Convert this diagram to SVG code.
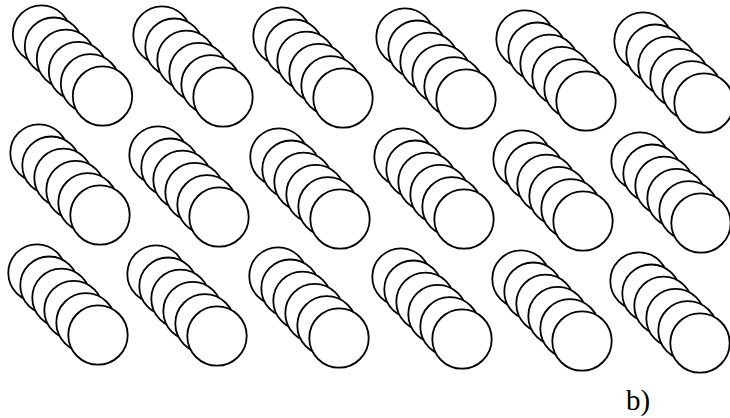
<svg xmlns="http://www.w3.org/2000/svg" xmlns:xlink="http://www.w3.org/1999/xlink" width="730" height="418" viewBox="0 0 730 418">
<style>
.c{fill:#fff;stroke:#000;stroke-width:1.8}
.lbl{font-family:"Liberation Serif","Times New Roman",serif;font-size:29px;fill:#000}
</style>
<defs>
<g id="stack">
<circle class="c" cx="0" cy="0" r="28.7"/>
<circle class="c" cx="12.2" cy="12.4" r="28.9"/>
<circle class="c" cx="24.4" cy="24.8" r="29.1"/>
<circle class="c" cx="36.6" cy="37.2" r="29.3"/>
<circle class="c" cx="48.8" cy="49.6" r="29.5"/>
<circle class="c" cx="61" cy="62" r="29.7"/>
</g>
</defs>
<rect width="730" height="418" fill="#fff"/>
<g id="row1">
<g id="s11"><use xlink:href="#stack" href="#stack" x="41.5" y="34"/></g>
<g id="s12"><use xlink:href="#stack" href="#stack" x="162" y="35"/></g>
<g id="s13"><use xlink:href="#stack" href="#stack" x="282" y="36"/></g>
<g id="s14"><use xlink:href="#stack" href="#stack" x="405" y="37"/></g>
<g id="s15"><use xlink:href="#stack" href="#stack" x="525" y="39"/></g>
<g id="s16"><use xlink:href="#stack" href="#stack" x="643" y="41"/></g>
</g>
<g id="row2">
<g id="s21"><use xlink:href="#stack" href="#stack" x="39" y="153"/></g>
<g id="s22"><use xlink:href="#stack" href="#stack" x="158" y="155"/></g>
<g id="s23"><use xlink:href="#stack" href="#stack" x="279" y="157"/></g>
<g id="s24"><use xlink:href="#stack" href="#stack" x="403" y="157"/></g>
<g id="s25"><use xlink:href="#stack" href="#stack" x="522" y="159"/></g>
<g id="s26"><use xlink:href="#stack" href="#stack" x="640" y="161"/></g>
</g>
<g id="row3">
<g id="s31"><use xlink:href="#stack" href="#stack" x="37" y="273"/></g>
<g id="s32"><use xlink:href="#stack" href="#stack" x="156" y="274"/></g>
<g id="s33"><use xlink:href="#stack" href="#stack" x="278" y="276"/></g>
<g id="s34"><use xlink:href="#stack" href="#stack" x="401" y="277"/></g>
<g id="s35"><use xlink:href="#stack" href="#stack" x="521" y="279"/></g>
<g id="s36"><use xlink:href="#stack" href="#stack" x="639" y="281"/></g>
</g>
<g id="connectors"/>
<g id="label"><text class="lbl" x="626" y="410">b)</text></g>
</svg>
